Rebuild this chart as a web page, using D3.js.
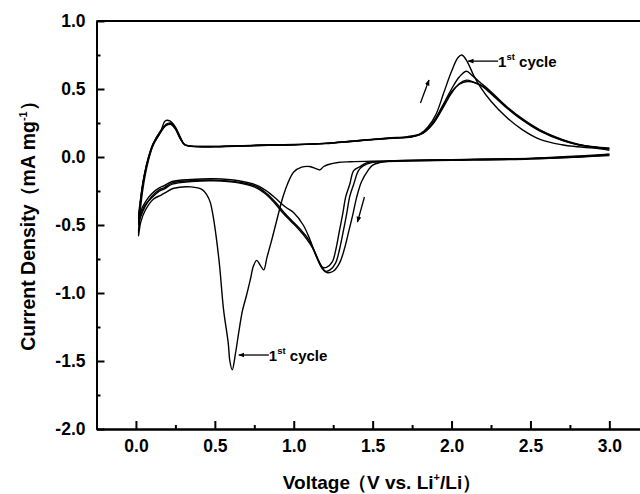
<!DOCTYPE html>
<html>
<head>
<meta charset="utf-8">
<script src="https://cdn.jsdelivr.net/npm/d3@7"></script>
<style>
  body { margin: 0; background: #fff; }
  svg { font-family: "Liberation Sans", Arial, sans-serif; font-weight: bold; }
  .curve { fill: none; stroke: #000; stroke-width: 1.4; }
  .axis path, .axis line { stroke: #000; stroke-width: 2; }
  .axis text { font-size: 17.5px; font-weight: bold; fill: #000; }
</style>
</head>
<body>
<div id="chart"></div>
<script>
const w = 640;
const h = 494;

// axis ticks
const xMajorTicks = [0, 0.5, 1.0, 1.5, 2.0, 2.5, 3.0];
const xMinorTicks = [0.25, 0.75, 1.25, 1.75, 2.25, 2.75];
const yMajorTicks = [1.0, 0.5, 0.0, -0.5, -1.0, -1.5, -2.0];
const yMinorTicks = [0.75, 0.25, -0.25, -0.75, -1.25, -1.75];

// [voltage V, current mA/mg]
const cycle1Cathodic = [[3.0,0.02],[2.8,0.0],[2.5,-0.01],[2.2,-0.015],[2.0,-0.02],[1.7,-0.025],[1.5,-0.03],[1.36,-0.035],[1.28,-0.04],[1.22,-0.055],[1.19,-0.07],[1.165,-0.095],[1.14,-0.085],[1.1,-0.07],[1.05,-0.075],[1.0,-0.11],[0.96,-0.2],[0.93,-0.3],[0.9,-0.43],[0.865,-0.59],[0.83,-0.74],[0.81,-0.83],[0.79,-0.8],[0.765,-0.76],[0.745,-0.8],[0.725,-0.9],[0.7,-1.02],[0.675,-1.13],[0.65,-1.3],[0.63,-1.45],[0.61,-1.565],[0.595,-1.5],[0.585,-1.37],[0.555,-1.12],[0.53,-0.8],[0.51,-0.6],[0.49,-0.44],[0.47,-0.33],[0.45,-0.28],[0.42,-0.24],[0.35,-0.22],[0.24,-0.23],[0.19,-0.26],[0.16,-0.28],[0.11,-0.31],[0.06,-0.39],[0.03,-0.48],[0.016,-0.58]];
const cycle1Anodic = [[0.016,-0.58],[0.025,-0.42],[0.05,-0.19],[0.08,-0.02],[0.11,0.09],[0.155,0.18],[0.185,0.265],[0.215,0.265],[0.25,0.22],[0.28,0.15],[0.305,0.095],[0.35,0.08],[0.5,0.075],[0.8,0.085],[1.0,0.09],[1.2,0.1],[1.4,0.12],[1.6,0.14],[1.72,0.15],[1.8,0.17],[1.85,0.22],[1.9,0.31],[1.95,0.47],[2.0,0.63],[2.04,0.73],[2.065,0.75],[2.1,0.7],[2.14,0.6],[2.18,0.52],[2.25,0.41],[2.35,0.29],[2.45,0.2],[2.56,0.13],[2.7,0.09],[2.8,0.075],[2.9,0.065],[3.0,0.05]];

const cycle2Cathodic = [[3.0,0.01],[2.5,-0.015],[2.0,-0.025],[1.7,-0.03],[1.55,-0.035],[1.47,-0.04],[1.42,-0.07],[1.38,-0.1],[1.355,-0.2],[1.33,-0.29],[1.31,-0.42],[1.29,-0.54],[1.265,-0.69],[1.245,-0.77],[1.21,-0.81],[1.18,-0.81],[1.15,-0.75],[1.12,-0.67],[1.08,-0.6],[1.03,-0.53],[0.98,-0.47],[0.93,-0.41],[0.88,-0.34],[0.82,-0.27],[0.75,-0.22],[0.65,-0.19],[0.5,-0.175],[0.35,-0.18],[0.23,-0.2],[0.18,-0.235],[0.15,-0.25],[0.1,-0.3],[0.06,-0.35],[0.03,-0.42],[0.016,-0.46]];
const cycle2Anodic = [[0.016,-0.46],[0.03,-0.3],[0.05,-0.15],[0.08,0.0],[0.11,0.1],[0.15,0.18],[0.19,0.235],[0.22,0.245],[0.25,0.21],[0.28,0.14],[0.31,0.09],[0.35,0.08],[0.5,0.078],[0.8,0.088],[1.0,0.092],[1.2,0.1],[1.4,0.12],[1.6,0.138],[1.75,0.15],[1.82,0.18],[1.88,0.25],[1.94,0.37],[2.0,0.5],[2.05,0.59],[2.095,0.63],[2.13,0.6],[2.18,0.55],[2.25,0.48],[2.35,0.37],[2.45,0.28],[2.56,0.2],[2.7,0.13],[2.8,0.095],[2.9,0.075],[3.0,0.065]];

const cycle3Cathodic = [[3.0,0.015],[2.5,-0.012],[2.0,-0.022],[1.7,-0.028],[1.58,-0.033],[1.5,-0.04],[1.44,-0.065],[1.41,-0.1],[1.38,-0.2],[1.355,-0.29],[1.335,-0.42],[1.315,-0.54],[1.29,-0.68],[1.265,-0.78],[1.23,-0.83],[1.2,-0.84],[1.17,-0.79],[1.13,-0.69],[1.09,-0.6],[1.04,-0.53],[0.99,-0.47],[0.94,-0.41],[0.89,-0.34],[0.83,-0.27],[0.76,-0.215],[0.65,-0.185],[0.5,-0.17],[0.35,-0.175],[0.23,-0.19],[0.18,-0.225],[0.15,-0.24],[0.1,-0.29],[0.06,-0.36],[0.03,-0.44],[0.016,-0.5]];
const cycle3Anodic = [[0.016,-0.5],[0.03,-0.32],[0.05,-0.16],[0.08,-0.01],[0.11,0.09],[0.15,0.17],[0.19,0.23],[0.22,0.24],[0.25,0.205],[0.28,0.135],[0.31,0.088],[0.35,0.078],[0.5,0.076],[0.8,0.086],[1.0,0.09],[1.2,0.098],[1.4,0.118],[1.6,0.136],[1.75,0.148],[1.82,0.175],[1.88,0.24],[1.94,0.35],[2.0,0.47],[2.05,0.54],[2.095,0.565],[2.14,0.55],[2.2,0.52],[2.25,0.47],[2.35,0.365],[2.45,0.275],[2.56,0.195],[2.7,0.125],[2.8,0.092],[2.9,0.073],[3.0,0.062]];

const cycle4Cathodic = [[3.0,0.02],[2.5,-0.01],[2.0,-0.02],[1.75,-0.025],[1.62,-0.03],[1.55,-0.04],[1.5,-0.06],[1.47,-0.1],[1.43,-0.18],[1.4,-0.29],[1.375,-0.42],[1.35,-0.54],[1.32,-0.68],[1.29,-0.78],[1.25,-0.84],[1.21,-0.85],[1.18,-0.82],[1.14,-0.72],[1.1,-0.6],[1.06,-0.5],[1.0,-0.41],[0.95,-0.37],[0.9,-0.32],[0.84,-0.26],[0.77,-0.21],[0.65,-0.175],[0.5,-0.16],[0.35,-0.165],[0.23,-0.18],[0.18,-0.21],[0.15,-0.225],[0.1,-0.27],[0.06,-0.33],[0.03,-0.4],[0.016,-0.47]];
const cycle4Anodic = [[0.016,-0.47],[0.03,-0.31],[0.05,-0.15],[0.08,0.0],[0.11,0.1],[0.15,0.18],[0.19,0.24],[0.22,0.25],[0.25,0.215],[0.28,0.14],[0.31,0.09],[0.35,0.08],[0.5,0.077],[0.8,0.087],[1.0,0.091],[1.2,0.1],[1.4,0.12],[1.6,0.137],[1.75,0.15],[1.82,0.178],[1.88,0.245],[1.94,0.36],[2.0,0.48],[2.05,0.535],[2.1,0.555],[2.15,0.545],[2.2,0.515],[2.25,0.465],[2.35,0.36],[2.45,0.27],[2.56,0.19],[2.7,0.122],[2.8,0.09],[2.9,0.072],[3.0,0.06]];

// annotation anchors [V, I]
const peakNotes = [[2.105, 0.705], [0.652, -1.456]];
const sweepArrows = [[[1.803, 0.397], [1.857, 0.566]], [[1.448, -0.294], [1.404, -0.478]]];

const svg = d3.select("#chart").append("svg")
  .attr("width", w)
  .attr("height", h);

const x = d3.scaleLinear().domain([-0.25, 3.25]).range([96.5, 648.8]);
const y = d3.scaleLinear().domain([-2, 1]).range([429, 21]);

svg.append("defs").append("marker")
  .attr("id", "head")
  .attr("viewBox", "0 0 10 10")
  .attr("refX", 9).attr("refY", 5)
  .attr("markerWidth", 6).attr("markerHeight", 6)
  .attr("markerUnits", "userSpaceOnUse")
  .attr("orient", "auto")
  .append("path")
  .attr("d", "M0,1 L10,5 L0,9 Z")
  .attr("fill", "#000");

//minor ticks first, then major with labels
svg.append("g").attr("class", "axis")
  .attr("transform", "translate(0,429)")
  .call(d3.axisBottom(x).tickValues(xMinorTicks).tickSizeInner(-4).tickSizeOuter(0).tickFormat(""));
svg.append("g").attr("class", "axis")
  .attr("transform", "translate(0,429)")
  .call(d3.axisBottom(x).tickValues(xMajorTicks).tickSizeInner(-8).tickSizeOuter(0).tickPadding(11)
    .tickFormat(d => d.toFixed(1)));

svg.append("g").attr("class", "axis")
  .attr("transform", "translate(96.5,0)")
  .call(d3.axisLeft(y).tickValues(yMinorTicks).tickSizeInner(-4).tickSizeOuter(0).tickFormat(""));
svg.append("g").attr("class", "axis")
  .attr("transform", "translate(96.5,0)")
  .call(d3.axisLeft(y).tickValues(yMajorTicks).tickSizeInner(-8).tickSizeOuter(0).tickPadding(11)
    .tickFormat(d => d.toFixed(1)));

//top frame line
svg.append("line")
  .attr("x1", x(-0.25)).attr("x2", x(3.25))
  .attr("y1", y(1)).attr("y2", y(1))
  .attr("stroke", "#000").attr("stroke-width", 2);

const line = d3.line()
  .x(d => x(d[0]))
  .y(d => y(d[1]))
  .curve(d3.curveCatmullRom.alpha(0.5));

const cycles = [
  cycle1Cathodic.concat(cycle1Anodic.slice(1)),
  cycle2Cathodic.concat(cycle2Anodic.slice(1)),
  cycle3Cathodic.concat(cycle3Anodic.slice(1)),
  cycle4Cathodic.concat(cycle4Anodic.slice(1))
];

svg.append("g").selectAll("path")
  .data(cycles)
  .enter()
  .append("path")
  .attr("class", "curve")
  .attr("d", line);

//"1st cycle" labels with leader arrows
const note = svg.append("g").selectAll("g")
  .data(peakNotes)
  .enter()
  .append("g");

note.append("line")
  .attr("x1", d => x(d[0]) + 30)
  .attr("x2", d => x(d[0]))
  .attr("y1", d => y(d[1]))
  .attr("y2", d => y(d[1]))
  .attr("stroke", "#000").attr("stroke-width", 1.3)
  .attr("marker-end", "url(#head)");

const noteText = note.append("text")
  .attr("x", d => x(d[0]) + 30)
  .attr("y", d => y(d[1]) + 6)
  .attr("font-size", 15);
noteText.append("tspan").text("1");
noteText.append("tspan").attr("font-size", 9.5).attr("dy", -7).text("st");
noteText.append("tspan").attr("dy", 7).text(" cycle");

svg.append("g").selectAll("line")
  .data(sweepArrows)
  .enter()
  .append("line")
  .attr("x1", d => x(d[0][0]))
  .attr("y1", d => y(d[0][1]))
  .attr("x2", d => x(d[1][0]))
  .attr("y2", d => y(d[1][1]))
  .attr("stroke", "#000").attr("stroke-width", 1.3)
  .attr("marker-end", "url(#head)");

//axis titles
const xTitle = svg.append("text")
  .attr("x", 382)
  .attr("y", 489)
  .attr("text-anchor", "middle")
  .attr("font-size", 19);
xTitle.append("tspan").text("Voltage");
xTitle.append("tspan").attr("dx", -2).text("（V vs. Li");
xTitle.append("tspan").attr("font-size", 11).attr("dy", -8).text("+");
xTitle.append("tspan").attr("dy", 8).text("/Li）");

const yTitle = svg.append("text")
  .attr("transform", "translate(35,221) rotate(-90)")
  .attr("text-anchor", "middle")
  .attr("font-size", 19.5);
yTitle.append("tspan").text("Current Density");
yTitle.append("tspan").attr("dx", -2).text("（mA mg");
yTitle.append("tspan").attr("font-size", 11).attr("dy", -8).text("-1");
yTitle.append("tspan").attr("dy", 8).text("）");
</script>
</body>
</html>
